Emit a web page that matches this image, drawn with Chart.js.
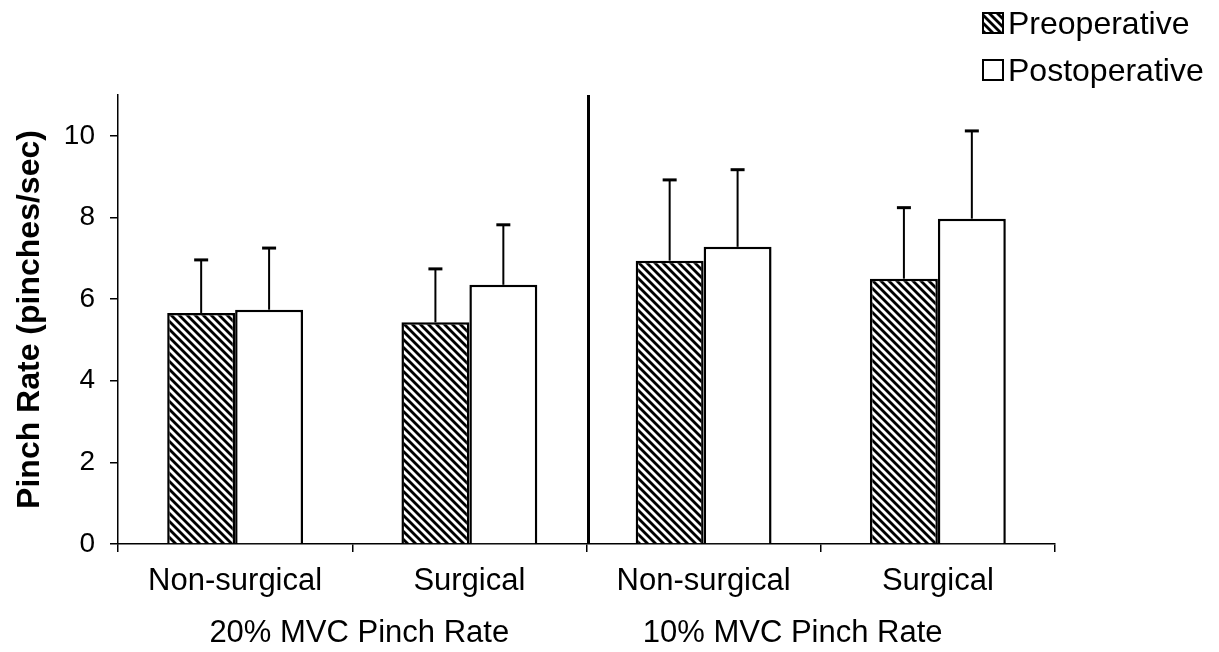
<!DOCTYPE html>
<html>
<head>
<meta charset="utf-8">
<script src="https://cdn.jsdelivr.net/npm/chart.js@4.4.1/dist/chart.umd.min.js"></script>
<style>
  html, body { margin: 0; padding: 0; background: #fff; }
  #pinchChart { display: block; }
</style>
</head>
<body>
<canvas id="pinchChart" width="1219" height="652"></canvas>
<script>
// --- data ---
const categories = ['Non-surgical', 'Surgical', 'Non-surgical', 'Surgical'];
const groupLabels = ['20% MVC Pinch Rate', '10% MVC Pinch Rate'];
const seriesNames = ['Preoperative', 'Postoperative'];
const preop = [5.66, 5.43, 6.94, 6.50];
const preopErr = [1.30, 1.31, 1.98, 1.74];
const postop = [5.74, 6.35, 7.28, 7.97];
const postopErr = [1.51, 1.47, 1.89, 2.15];
const yTicks = [0, 2, 4, 6, 8, 10];
const yMax = 11;

const FONT = '"Liberation Sans", Arial, Helvetica, sans-serif';

// hatch pattern "\\\\" for preoperative bars
function makeHatch() {
    const s = 8;
    const c = document.createElement('canvas');
    c.width = s; c.height = s;
    const g = c.getContext('2d');
    g.fillStyle = '#fff';
    g.fillRect(0, 0, s, s);
    g.strokeStyle = '#000';
    g.lineWidth = 2.8;
    for (let k = -1; k <= 1; k++) {
        g.beginPath();
        g.moveTo(k * s - 1, -1);
        g.lineTo(k * s + s + 1, s + 1);
        g.stroke();
    }
    return c;
}
const hatch = document.getElementById('pinchChart').getContext('2d').createPattern(makeHatch(), 'repeat');

const errors = [preopErr, postopErr];

// error bars, divider, group labels, legend
const extras = {
    id: 'extras',
    afterDatasetsDraw(chart) {
        const ctx = chart.ctx;
        const y = chart.scales.y;
        ctx.save();
        ctx.strokeStyle = '#000';
        chart.data.datasets.forEach((ds, di) => {
            const meta = chart.getDatasetMeta(di);
            meta.data.forEach((bar, i) => {
                const top = y.getPixelForValue(ds.data[i] + errors[di][i]);
                ctx.lineWidth = 2;
                ctx.beginPath();
                ctx.moveTo(bar.x, bar.y);
                ctx.lineTo(bar.x, top);
                ctx.stroke();
                ctx.lineWidth = 3;
                ctx.beginPath();
                ctx.moveTo(bar.x - 7, top);
                ctx.lineTo(bar.x + 7, top);
                ctx.stroke();
            });
        });
        ctx.restore();
    },
    afterDraw(chart) {
        const ctx = chart.ctx;
        const x = chart.scales.x;
        const area = chart.chartArea;
        ctx.save();
        // divider between the two groups
        const mid = (x.getPixelForValue(1) + x.getPixelForValue(2)) / 2 + 2;
        ctx.strokeStyle = '#000';
        ctx.lineWidth = 3;
        ctx.beginPath();
        ctx.moveTo(mid, area.top);
        ctx.lineTo(mid, area.bottom);
        ctx.stroke();

        // second row of category labels
        ctx.fillStyle = '#000';
        ctx.font = '31px ' + FONT;
        ctx.textAlign = 'center';
        ctx.textBaseline = 'alphabetic';
        const groupPos = [0.53, 2.38];
        groupLabels.forEach((t, i) => {
            ctx.fillText(t, x.getPixelForValue(groupPos[i]), 642);
        });

        // legend
        ctx.font = '32px ' + FONT;
        ctx.textAlign = 'left';
        ctx.textBaseline = 'middle';
        const fills = [hatch, '#fff'];
        seriesNames.forEach((name, i) => {
            const by = 13 + i * 47;
            ctx.fillStyle = fills[i];
            ctx.fillRect(983, by, 20, 20);
            ctx.lineWidth = 2;
            ctx.strokeRect(983, by, 20, 20);
            ctx.fillStyle = '#000';
            ctx.fillText(name, 1008, by + 12);
        });
        ctx.restore();
    }
};

new Chart(document.getElementById('pinchChart'), {
    type: 'bar',
    data: {
        labels: categories,
        datasets: [
            { label: seriesNames[0], data: preop, backgroundColor: hatch, borderColor: '#000', borderWidth: 2.5 },
            { label: seriesNames[1], data: postop, backgroundColor: '#fff', borderColor: '#000', borderWidth: 2.5 }
        ]
    },
    options: {
        responsive: false,
        animation: false,
        devicePixelRatio: 1,
        layout: { padding: { top: 95, right: 164, left: 0, bottom: 0 } },
        datasets: { bar: { categoryPercentage: 0.58, barPercentage: 1.0 } },
        plugins: {
            legend: { display: false },
            tooltip: { enabled: false }
        },
        scales: {
            x: {
                afterFit: (s) => { s.height = 108; },
                grid: { drawOnChartArea: false, tickLength: 8, color: '#000', lineWidth: 1.5 },
                border: { color: '#000', width: 1.5 },
                ticks: { color: '#000', font: { family: FONT, size: 31 }, padding: 11, maxRotation: 0 }
            },
            y: {
                min: 0,
                max: yMax,
                afterFit: (s) => { s.width = 118; },
                afterBuildTicks: (s) => { s.ticks = yTicks.map(v => ({ value: v })); },
                grid: { drawOnChartArea: false, tickLength: 8, color: '#000', lineWidth: 1.5 },
                border: { color: '#000', width: 1.5 },
                ticks: { color: '#000', font: { family: FONT, size: 28 }, padding: 15 },
                title: {
                    display: true,
                    text: 'Pinch Rate (pinches/sec)',
                    color: '#000',
                    font: { family: FONT, size: 32, weight: 'bold' },
                    padding: { top: 11 }
                }
            }
        }
    },
    plugins: [extras]
});
</script>
</body>
</html>
